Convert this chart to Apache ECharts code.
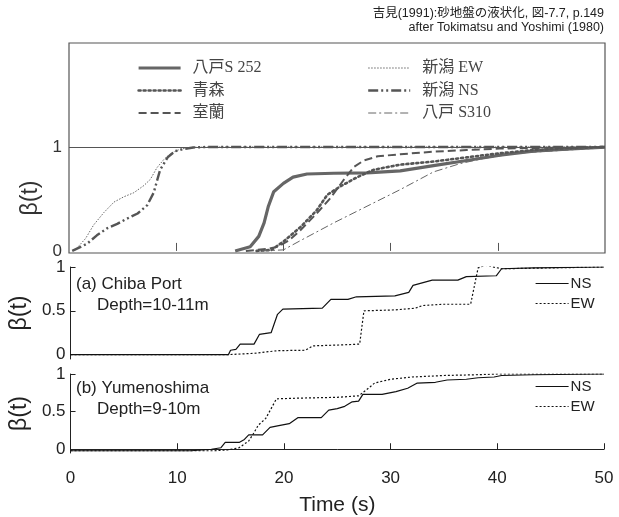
<!DOCTYPE html>
<html><head><meta charset="utf-8">
<script src="https://cdn.jsdelivr.net/npm/echarts@6/dist/echarts.min.js"></script>
<style>html,body{margin:0;padding:0;background:#fff}#c{width:619px;height:517px}</style>
</head><body><div id="c"></div>
<script>
// ---- Top panel (Tokimatsu & Yoshimi) ----
const niigataEW_t = [0.5, 1.55, 2.3, 3.26, 4.2, 5.1, 6.05, 7.0, 7.6, 8.2, 8.85, 9.5, 10.4, 11.6, 14.4, 50];
const niigataEW_b = [0, 0.12, 0.25, 0.37, 0.47, 0.52, 0.56, 0.63, 0.69, 0.80, 0.88, 0.94, 0.98, 0.997, 1.0, 1.0];
const niigataNS_t = [0.3, 1.7, 2.6, 3.6, 4.5, 5.4, 6.4, 7.3, 7.9, 8.5, 9.2, 9.9, 10.7, 11.6, 13, 50];
const niigataNS_b = [0, 0.07, 0.15, 0.22, 0.26, 0.31, 0.36, 0.44, 0.56, 0.78, 0.90, 0.96, 0.98, 0.995, 1.0, 1.0];
const hachinoheS252_t = [15.5, 16.9, 17.7, 18.2, 18.6, 19.1, 20.0, 20.9, 22.2, 24.7, 27.8, 30.9, 34.0, 37.1, 40.2, 43.3, 46.4, 50];
const hachinoheS252_b = [0, 0.04, 0.14, 0.27, 0.43, 0.57, 0.65, 0.71, 0.74, 0.747, 0.75, 0.77, 0.82, 0.87, 0.92, 0.96, 0.98, 0.997];
const aomori_t = [17.5, 18.9, 20.0, 21.6, 23.1, 24.1, 25.3, 26.9, 28.4, 30.9, 34.0, 37.1, 40.2, 43.3, 46.4, 50];
const aomori_b = [0, 0.01, 0.09, 0.23, 0.39, 0.54, 0.62, 0.71, 0.78, 0.83, 0.86, 0.90, 0.94, 0.97, 0.985, 1.0];
const muroran_t = [16.5, 18.5, 19.5, 20.5, 21.6, 23.1, 24.4, 25.6, 26.6, 27.5, 28.8, 30.9, 34, 37.1, 40.2, 43.3, 50];
const muroran_b = [0, 0.02, 0.04, 0.1, 0.2, 0.36, 0.51, 0.68, 0.81, 0.87, 0.91, 0.93, 0.955, 0.97, 0.985, 0.99, 1.0];
const hachinoheS310_t = [18, 20, 21.6, 24.7, 27.8, 30.9, 34.0, 36.5, 38.7, 41.8, 44.9, 48, 50];
const hachinoheS310_b = [0, 0.01, 0.1, 0.27, 0.43, 0.59, 0.76, 0.84, 0.89, 0.94, 0.96, 0.98, 0.99];

// ---- (a) Chiba Port ----
const chibaNS_t = [0, 14.8, 15.0, 15.5, 15.9, 17.2, 17.7, 18.8, 19.4, 19.9, 23.6, 24.4, 26.0, 26.8, 30.4, 31.7, 32.1, 33.9, 36.3, 37.1, 39.9, 40.4, 43.4, 50];
const chibaNS_b = [0, 0, 0.05, 0.06, 0.12, 0.12, 0.23, 0.25, 0.46, 0.52, 0.53, 0.63, 0.63, 0.66, 0.67, 0.71, 0.79, 0.85, 0.85, 0.89, 0.90, 0.98, 0.99, 1.0];
const chibaEW_t = [0, 14.8, 17.2, 19.4, 22.0, 22.7, 25.3, 27.1, 27.5, 30.4, 32.3, 33.0, 34.9, 37.5, 38.2, 38.9, 40.4, 50];
const chibaEW_b = [0, 0, 0.015, 0.045, 0.05, 0.10, 0.11, 0.12, 0.50, 0.51, 0.53, 0.56, 0.575, 0.575, 0.99, 1.02, 0.98, 1.0];

// ---- (b) Yumenoshima ----
const yumeNS_t = [0, 11.3, 13.2, 14.1, 14.5, 15.8, 16.3, 16.7, 18.0, 18.7, 19.4, 20.5, 21.3, 23.5, 24.2, 25.0, 25.7, 26.4, 27.0, 27.4, 29.2, 30.5, 31.6, 32.5, 34.2, 35.3, 37.1, 38.2, 39.7, 40.4, 43.4, 50];
const yumeNS_b = [-0.02, -0.02, 0, 0.02, 0.09, 0.09, 0.13, 0.19, 0.19, 0.29, 0.31, 0.34, 0.42, 0.42, 0.52, 0.54, 0.57, 0.63, 0.64, 0.73, 0.73, 0.765, 0.81, 0.88, 0.89, 0.92, 0.93, 0.95, 0.96, 0.98, 0.99, 1.0];
const yumeEW_t = [0, 13.5, 14.7, 15.8, 16.7, 17.2, 17.6, 18.3, 19.3, 21.6, 25.0, 27.0, 28.0, 28.5, 30.0, 32.0, 35.0, 38.0, 40.0, 50];
const yumeEW_b = [-0.02, -0.02, -0.01, 0.02, 0.11, 0.22, 0.32, 0.41, 0.67, 0.68, 0.69, 0.71, 0.82, 0.88, 0.93, 0.96, 0.98, 0.99, 1.0, 1.0];

const timeTicks = [0, 10, 20, 30, 40, 50];
const topLabels = [0, 1];
const lowLabels = [0, 0.5, 1];

const zip = (t, b) => t.map((v, i) => [v, b[i]]);
const serifFont = "'Liberation Serif','Noto Sans CJK JP',serif";
const sansFont = "'Liberation Sans','Noto Sans CJK JP',sans-serif";
const gray = '#555';

const chart = echarts.init(document.getElementById('c'));

function line(name, t, b, idx, color, width, type, cap) {
  return {
    name, type: 'line', xAxisIndex: idx, yAxisIndex: idx,
    data: zip(t, b), symbol: 'none', smooth: false, silent: true,
    lineStyle: { color, width, type, cap: cap || 'butt' },
    itemStyle: { color },
    z: 3
  };
}

const legendBase = { orient: 'vertical', padding: 0, selectedMode: false,
  itemStyle: { opacity: 0 } };

const s252 = line('八戸S 252', hachinoheS252_t, hachinoheS252_b, 0, '#666', 3.2, 'solid');
s252.markLine = { silent: true, symbol: 'none', label: { show: false },
  lineStyle: { color: gray, width: 1, type: 'solid' }, data: [{ yAxis: 1 }] };

const option = {
  animation: false,
  backgroundColor: '#fff',
  grid: [
    { left: 69, top: 43, width: 536, height: 210, show: true, borderColor: gray, borderWidth: 1.2 },
    { left: 68, top: 267, width: 536, height: 92 },
    { left: 68, top: 374, width: 536, height: 91 }
  ],
  xAxis: [
    { gridIndex: 0, type: 'value', min: 0, max: 50, interval: 10,
      axisLine: { show: false }, splitLine: { show: false },
      axisTick: { show: true, inside: true, length: 8, lineStyle: { color: gray, width: 1 }, customValues: [10, 20, 30, 40] },
      axisLabel: { show: false } },
    { gridIndex: 1, type: 'value', min: 0, max: 50, interval: 10, show: false },
    { gridIndex: 2, type: 'value', min: 0, max: 50, interval: 10, offset: 12,
      axisLine: { show: true, lineStyle: { color: '#222', width: 1 } },
      splitLine: { show: false },
      axisTick: { show: true, inside: true, length: 6, lineStyle: { color: '#222' }, customValues: timeTicks },
      axisLabel: { fontSize: 17, color: '#222', fontFamily: sansFont, margin: 5, customValues: timeTicks },
      name: 'Time (s)', nameLocation: 'middle', nameGap: 30,
      nameTextStyle: { fontSize: 21, color: '#222', fontFamily: sansFont } }
  ],
  yAxis: [
    { gridIndex: 0, type: 'value', min: -0.02, max: 2.0,
      axisLine: { show: false }, axisTick: { show: false }, splitLine: { show: false },
      axisLabel: { fontSize: 17, color: '#333', fontFamily: sansFont, margin: 7, customValues: topLabels } },
    { gridIndex: 1, type: 'value', min: -0.05, max: 1.0,
      axisLine: { show: true, lineStyle: { color: '#222', width: 1 } },
      axisTick: { show: true, inside: true, length: 5, lineStyle: { color: '#222' }, customValues: lowLabels },
      splitLine: { show: false },
      axisLabel: { fontSize: 17, color: '#222', fontFamily: sansFont, margin: 5, customValues: lowLabels },
      name: 'β(t)', nameLocation: 'middle', nameGap: 28,
      nameTextStyle: { fontSize: 23, color: '#222', fontFamily: sansFont } },
    { gridIndex: 2, type: 'value', min: -0.05, max: 1.0,
      axisLine: { show: true, lineStyle: { color: '#222', width: 1 } },
      axisTick: { show: true, inside: true, length: 5, lineStyle: { color: '#222' }, customValues: lowLabels },
      splitLine: { show: false },
      axisLabel: { fontSize: 17, color: '#222', fontFamily: sansFont, margin: 5, customValues: lowLabels },
      name: 'β(t)', nameLocation: 'middle', nameGap: 28,
      nameTextStyle: { fontSize: 23, color: '#222', fontFamily: sansFont } }
  ],
  legend: [
    Object.assign({}, legendBase, {
      data: [
        { name: '八戸S 252', lineStyle: { width: 3.2 } },
        { name: '青森', lineStyle: { width: 2.6 } },
        { name: '室蘭', lineStyle: { width: 2 } }
      ], left: 137, top: 60,
      itemWidth: 42, itemHeight: 14, itemGap: 6.5,
      textStyle: { fontSize: 16, color: '#444', fontFamily: serifFont, padding: [0, 0, 0, 7] } }),
    Object.assign({}, legendBase, {
      data: [
        { name: '新潟 EW', lineStyle: { width: 1 } },
        { name: '新潟 NS', lineStyle: { width: 2.4 } },
        { name: '八戸 S310', lineStyle: { width: 1 } }
      ], left: 367, top: 60,
      itemWidth: 42, itemHeight: 14, itemGap: 6.5,
      textStyle: { fontSize: 16, color: '#444', fontFamily: serifFont, padding: [0, 0, 0, 7] } }),
    Object.assign({}, legendBase, { data: ['NS', 'EW'], left: 535, top: 276,
      itemWidth: 33, itemHeight: 14, itemGap: 5, lineStyle: { width: 1.2 },
      textStyle: { fontSize: 15, color: '#222', fontFamily: sansFont, padding: [0, 0, 0, -3] } }),
    Object.assign({}, legendBase, { data: ['NS', 'EW'], left: 535, top: 379,
      itemWidth: 33, itemHeight: 14, itemGap: 5, lineStyle: { width: 1.2 },
      textStyle: { fontSize: 15, color: '#222', fontFamily: sansFont, padding: [0, 0, 0, -3] } })
  ],
  series: [
    s252,
    line('青森', aomori_t, aomori_b, 0, '#555', 2.6, [2, 3], 'round'),
    line('室蘭', muroran_t, muroran_b, 0, '#555', 2, [8, 4]),
    line('新潟 EW', niigataEW_t, niigataEW_b, 0, '#666', 1, [1.5, 1.5]),
    line('新潟 NS', niigataNS_t, niigataNS_b, 0, '#555', 2.4, [10, 3, 2, 3, 2, 3]),
    line('八戸 S310', hachinoheS310_t, hachinoheS310_b, 0, '#666', 1, [8, 3, 2, 3]),
    line('NS', chibaNS_t, chibaNS_b, 1, '#111', 1.2, 'solid'),
    line('EW', chibaEW_t, chibaEW_b, 1, '#111', 1.2, [2, 2]),
    line('NS', yumeNS_t, yumeNS_b, 2, '#111', 1.2, 'solid'),
    line('EW', yumeEW_t, yumeEW_b, 2, '#111', 1.2, [2, 2])
  ],
  graphic: [
    { type: 'text', x: 604, y: 14, style: { text: '吉見(1991):砂地盤の液状化, 図-7.7, p.149', fontSize: 12.5, fontFamily: sansFont, fill: '#222', align: 'right', verticalAlign: 'middle' } },
    { type: 'text', x: 604, y: 28, style: { text: 'after Tokimatsu and Yoshimi (1980)', fontSize: 12.5, fontFamily: sansFont, fill: '#222', align: 'right', verticalAlign: 'middle' } },
    { type: 'text', x: 31, y: 198, rotation: Math.PI / 2, style: { text: 'β(t)', fontSize: 23, fontFamily: sansFont, fill: '#333', align: 'center', verticalAlign: 'middle' } },
    { type: 'text', x: 76, y: 284, style: { text: '(a) Chiba Port', fontSize: 17, fontFamily: sansFont, fill: '#222', verticalAlign: 'middle' } },
    { type: 'text', x: 97, y: 305, style: { text: 'Depth=10-11m', fontSize: 17, fontFamily: sansFont, fill: '#222', verticalAlign: 'middle' } },
    { type: 'text', x: 76, y: 388, style: { text: '(b) Yumenoshima', fontSize: 17, fontFamily: sansFont, fill: '#222', verticalAlign: 'middle' } },
    { type: 'text', x: 97, y: 409, style: { text: 'Depth=9-10m', fontSize: 17, fontFamily: sansFont, fill: '#222', verticalAlign: 'middle' } }
  ]
};
chart.setOption(option);
</script>
</body></html>
